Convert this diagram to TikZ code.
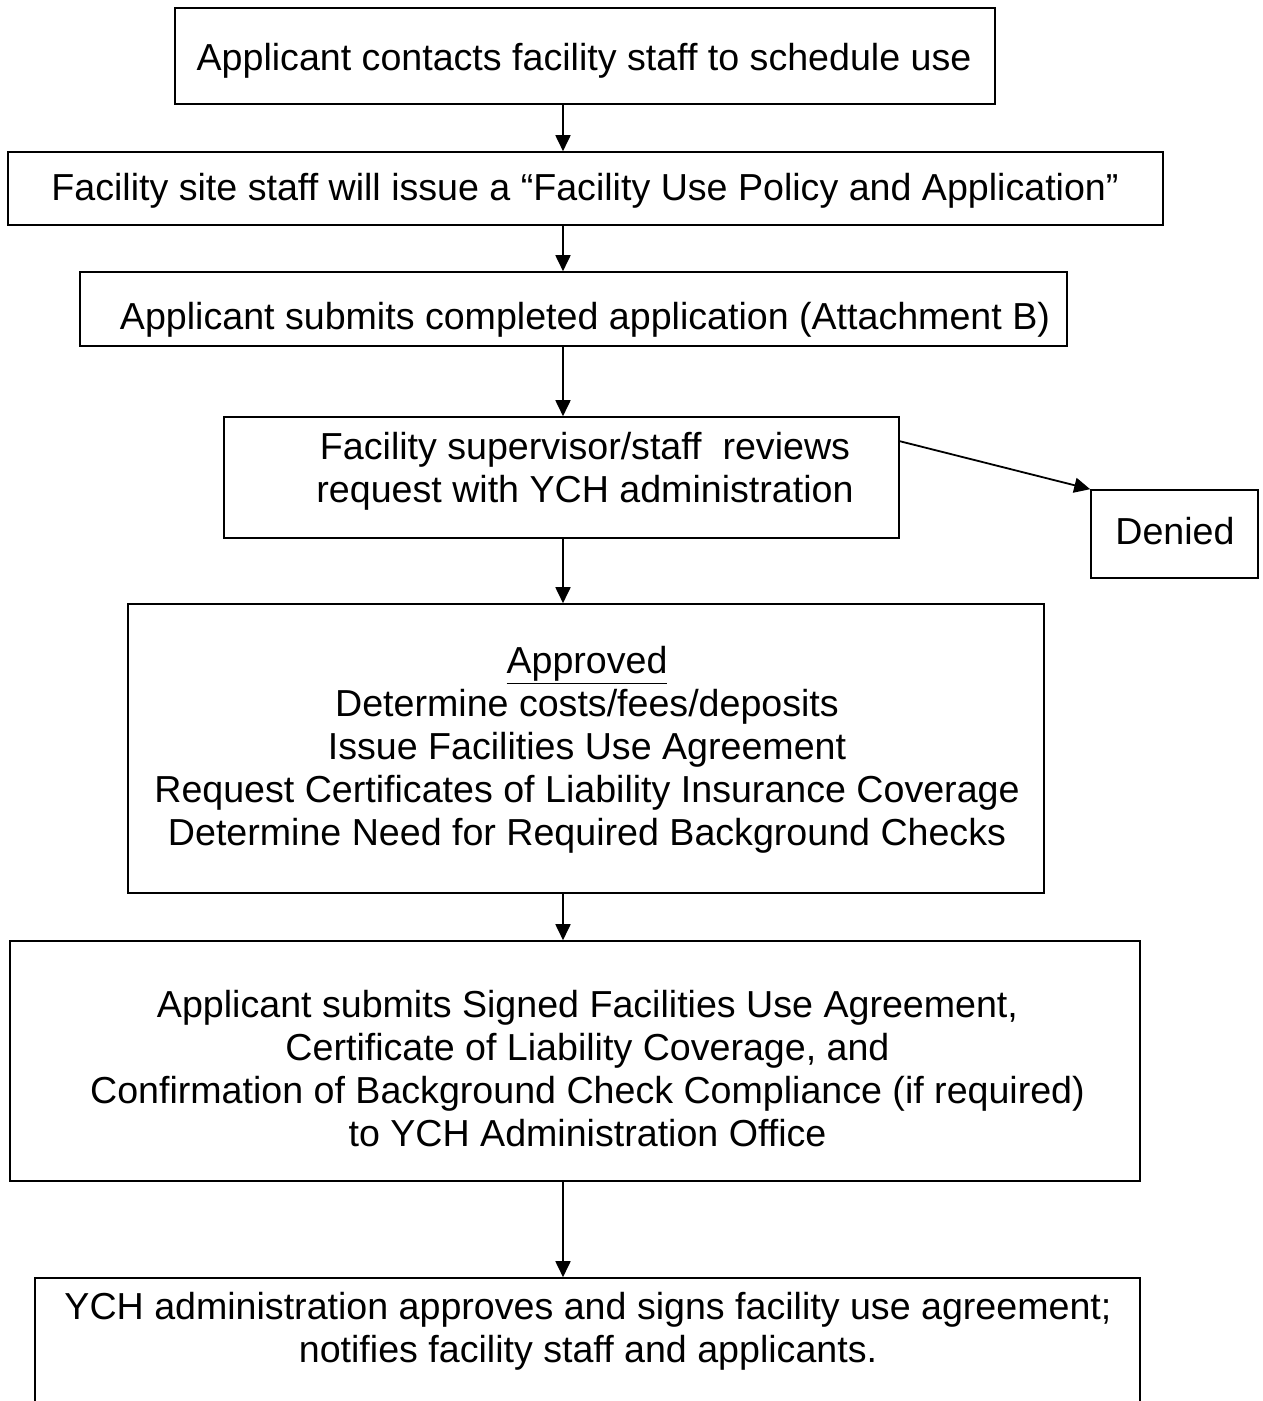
\documentclass[tikz,border=0pt]{standalone}
\usepackage{fontspec}
\setmainfont{Liberation Sans}
\usetikzlibrary{arrows.meta,calc}
\begin{document}
\begin{tikzpicture}[x=1pt,y=-1pt,
  box/.style={draw,line width=1.6pt,inner sep=0pt,minimum width=#1},
  txt/.style={inner sep=0pt,align=center,font=\fontsize{37.6}{43}\selectfont},
  arr/.style={line width=1.8pt,-{Triangle[length=16pt,width=15pt]}}]
\useasboundingbox (0,0) rectangle (1262,1401);
\clip (0,0) rectangle (1262,1401);
\fill[white] (0,0) rectangle (1262,1401);
\coordinate (col) at (563,0);
% boxes
\node[box=820pt,minimum height=96pt] (b1) at (585,56) {};
\node[box=1155pt,minimum height=73pt] (b2) at (585.5,188.5) {};
\node[box=987pt,minimum height=74pt] (b3) at (573.5,309) {};
\node[box=675pt,minimum height=121pt] (b4) at (561.5,477.5) {};
\node[box=167pt,minimum height=88pt] (b5) at (1174.5,534) {};
\node[box=916pt,minimum height=289pt] (b6) at (586,748.5) {};
\node[box=1130pt,minimum height=240pt] (b7) at (575,1061) {};
\node[box=1105pt,minimum height=200pt] (b8) at (587.5,1378) {};
% texts
\node[txt] (t1) at (584,61) {Applicant contacts facility staff to schedule use};
\node[txt] (t2) at (585,191) {Facility site staff will issue a “Facility Use Policy and Application”};
\node[txt] (t3) at (585,320) {Applicant submits completed application (Attachment B)};
\node[txt] (t4) at (585,471) {Facility supervisor/staff\ \ reviews\\request with YCH administration};
\node[txt] (t5) at (1175,531) {Denied};
\node[txt] (t6) at (587,750) {\underline{Approved}\\Determine costs/fees/deposits\\Issue Facilities Use Agreement\\Request Certificates of Liability Insurance Coverage\\Determine Need for Required Background Checks};
\node[txt] (t7) at (587.5,1068.5) {Applicant submits Signed Facilities Use Agreement,\\Certificate of Liability Coverage, and\\Confirmation of Background Check Compliance (if required)\\to YCH Administration Office};
\node[txt] (t8) at (588,1331) {YCH administration approves and signs facility use agreement;\\notifies facility staff and applicants.};
% connectors
\draw[arr] (b1.south -| col) -- (b2.north -| col);
\draw[arr] (b2.south -| col) -- (b3.north -| col);
\draw[arr] (b3.south -| col) -- (b4.north -| col);
\draw[arr] (b4.south -| col) -- (b6.north -| col);
\draw[arr] (b6.south -| col) -- (b7.north -| col);
\draw[arr] (b7.south -| col) -- (b8.north -| col);
\draw[arr] ($(b4.north east)+(0,25)$) -- (b5.north west);
\end{tikzpicture}
\end{document}
